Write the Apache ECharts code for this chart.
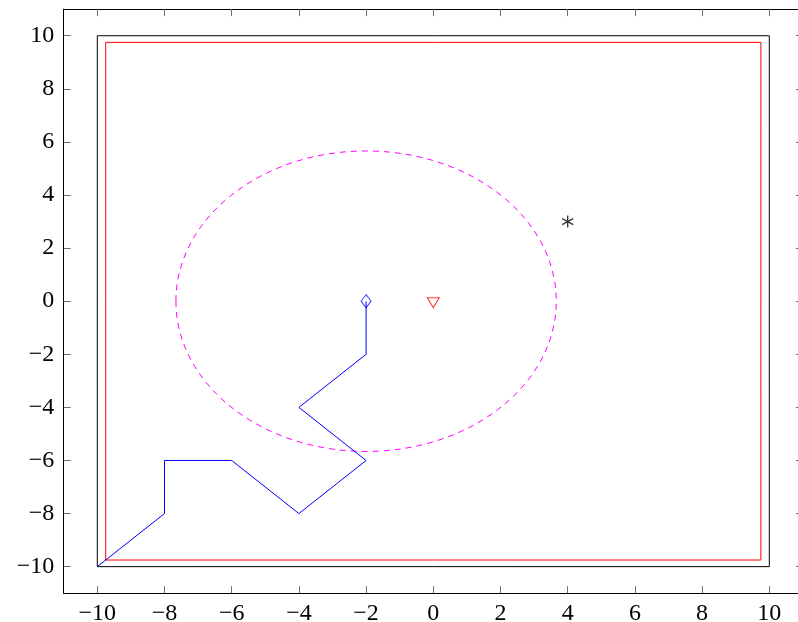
<!DOCTYPE html>
<html>
<head>
<meta charset="utf-8">
<script src="https://cdn.jsdelivr.net/npm/echarts@6/dist/echarts.min.js"></script>
<style>
  html, body { margin: 0; padding: 0; background: #ffffff; }
  #chart { width: 798px; height: 622px; }
</style>
</head>
<body>
<div id="chart"></div>
<script>
// Tick positions on both axes
const xTicks = [-10, -8, -6, -4, -2, 0, 2, 4, 6, 8, 10];
const yTicks = [-10, -8, -6, -4, -2, 0, 2, 4, 6, 8, 10];

// Outer (black) square corners
const outerBoxX = [-10, 10, 10, -10, -10];
const outerBoxY = [-10, -10, 10, 10, -10];

// Inner (red) square corners
const innerBoxX = [-9.75, 9.75, 9.75, -9.75, -9.75];
const innerBoxY = [-9.75, -9.75, 9.75, 9.75, -9.75];

// Blue zig-zag path, ending at the diamond marker
const pathX = [-10, -8, -8, -6, -4, -2, -4, -2, -2];
const pathY = [-10, -8, -6, -6, -8, -6, -4, -2, 0];

// Dashed circle: centre and radius in data units
const circleCenter = [-2, 0];
const circleRadius = 5.66;

// Single markers
const trianglePoint = [0, 0];
const asteriskPoint = [4, 3];

const zip = (xs, ys) => xs.map((x, i) => [x, ys[i]]);
const fmt = v => String(v).replace('-', '\u2212');
const labelFont = { fontFamily: '"Liberation Serif", serif', fontSize: 24, color: '#000' };

const chart = echarts.init(document.getElementById('chart'), null, { renderer: 'canvas' });

const tickStyle = { show: true, inside: true, length: 7, lineStyle: { color: '#707070', width: 1 } };
const frameLine = { show: true, onZero: false, lineStyle: { color: '#000', width: 1 } };

chart.setOption({
  animation: false,
  backgroundColor: '#ffffff',
  grid: {
    left: 63.7, top: 9.2, width: 739.2, height: 584,
    outerBoundsMode: 'none', containLabel: false, show: false
  },
  xAxis: [
    {
      type: 'value', min: -11, max: 11, position: 'bottom',
      axisLine: frameLine, splitLine: { show: false },
      axisTick: Object.assign({ customValues: xTicks }, tickStyle),
      axisLabel: Object.assign({ customValues: xTicks, margin: 8.5, formatter: fmt }, labelFont)
    },
    {
      type: 'value', min: -11, max: 11, position: 'top',
      axisLine: frameLine, splitLine: { show: false },
      axisTick: Object.assign({ customValues: xTicks }, tickStyle),
      axisLabel: { show: false }
    }
  ],
  yAxis: [
    {
      type: 'value', min: -11, max: 11, position: 'left',
      axisLine: frameLine, splitLine: { show: false },
      axisTick: Object.assign({ customValues: yTicks }, tickStyle),
      axisLabel: Object.assign({ customValues: yTicks, margin: 9.5, formatter: fmt }, labelFont)
    },
    {
      type: 'value', min: -11, max: 11, position: 'right',
      axisLine: frameLine, splitLine: { show: false },
      axisTick: Object.assign({ customValues: yTicks }, tickStyle),
      axisLabel: { show: false }
    }
  ],
  series: [
    {
      name: 'outer', type: 'line', data: zip(outerBoxX, outerBoxY),
      symbol: 'none', lineStyle: { color: '#000', width: 1 }, clip: false
    },
    {
      name: 'inner', type: 'line', data: zip(innerBoxX, innerBoxY),
      symbol: 'none', lineStyle: { color: '#ff0000', width: 1 }, clip: false
    },
    {
      name: 'circle', type: 'custom', data: [[circleCenter[0], circleCenter[1], circleRadius]],
      renderItem: (params, api) => {
        const c = api.coord([api.value(0), api.value(1)]);
        const s = api.size([api.value(2), api.value(2)]);
        return {
          type: 'ellipse',
          shape: { cx: c[0], cy: c[1], rx: s[0], ry: s[1] },
          style: { fill: 'none', stroke: '#ff00ff', lineWidth: 1, lineDash: [6, 5] }
        };
      }
    },
    {
      name: 'path', type: 'line', data: zip(pathX, pathY),
      symbol: 'none', lineStyle: { color: '#0000ff', width: 1 }
    },
    {
      name: 'diamond', type: 'scatter',
      data: [[pathX[pathX.length - 1], pathY[pathY.length - 1]]],
      symbol: 'diamond', symbolSize: [10, 13],
      itemStyle: { color: '#ffffff', borderColor: '#0000ff', borderWidth: 1 }
    },
    {
      name: 'triangle', type: 'scatter', data: [trianglePoint],
      symbol: 'path://M0,0 L12,0 L6,10 Z', symbolSize: [12, 10], symbolOffset: [0, 1.5],
      itemStyle: { color: '#ffffff', borderColor: '#ff0000', borderWidth: 1 }
    },
    {
      name: 'asterisk', type: 'scatter', data: [asteriskPoint],
      symbol: 'path://M0,-1 L0,1 M-0.866,-0.5 L0.866,0.5 M-0.866,0.5 L0.866,-0.5',
      symbolSize: [11, 12],
      itemStyle: { color: 'none', borderColor: '#000', borderWidth: 1.4 }
    }
  ]
});
</script>
</body>
</html>
